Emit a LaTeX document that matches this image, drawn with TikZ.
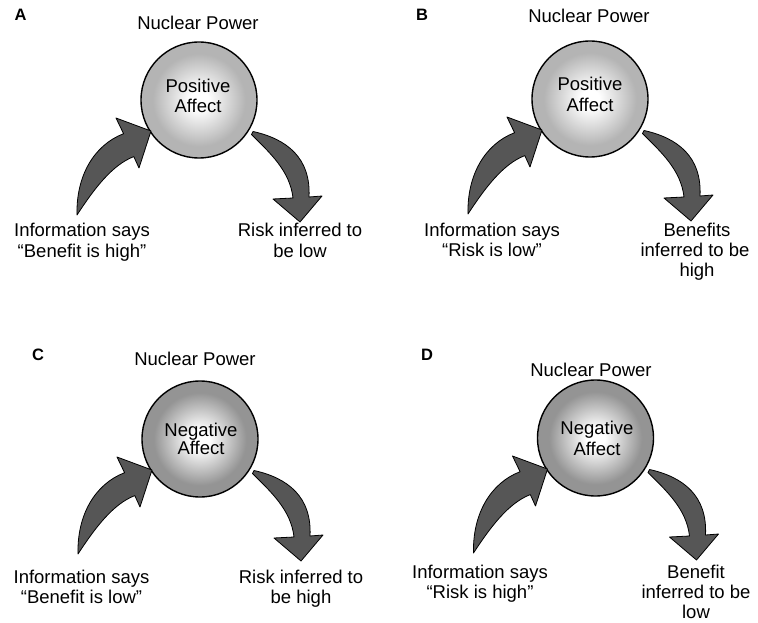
\documentclass[tikz,border=0pt]{standalone}
\usepackage{fontspec}
\setmainfont{Liberation Sans}
\definecolor{posgray}{RGB}{180,180,180}
\definecolor{neggray}{RGB}{148,148,148}
\definecolor{arrowgray}{RGB}{86,86,86}
\pgfdeclareradialshading{posglow}{\pgfpoint{0bp}{0bp}}{color(0bp)=(white); color(4bp)=(white); color(20bp)=(posgray); color(50bp)=(posgray)}
\pgfdeclareradialshading{negglow}{\pgfpoint{0bp}{0bp}}{color(0bp)=(white); color(4bp)=(white); color(20bp)=(neggray); color(50bp)=(neggray)}
\tikzset{
  txt/.style={font=\fontsize{18.5}{21}\selectfont, anchor=base, inner sep=0pt},
  lbl/.style={font=\fontsize{16.5}{19}\selectfont\bfseries, anchor=base, inner sep=0pt},
  affect/.style={circle, draw=black, line width=1.4pt, minimum size=116pt, inner sep=0pt},
  arrowshape/.style={fill=arrowgray, draw=black, line width=0.8pt, line join=round}
}
\newcommand\infoArrow{%
  \filldraw[arrowshape] (-122,115) .. controls (-123,76) and (-105,45) .. (-75.4,33.7)
    -- (-83,18) -- (-48,31) -- (-60,68) -- (-65.2,56.6)
    .. controls (-87,65) and (-105,89) .. (-122,115) -- cycle;}
\newcommand\inferArrow{%
  \filldraw[arrowshape] (54,31.5) .. controls (88,39) and (112,58) .. (110,97)
    -- (123,96) -- (101,122) -- (74,99) -- (94,98)
    .. controls (91,71) and (71,53) .. (52.5,34.5) -- cycle;}
\begin{document}
\begin{tikzpicture}[x=1pt,y=-1pt]
\useasboundingbox (0,0) rectangle (758,623);
% ---------- Panel A ----------
\node[lbl] (A-lab) at (20.5,21) {A};
\node[txt] (A-np) at (198,29.5) {Nuclear Power};
\node[affect, shading=posglow] (A-c) at (199,100) {};
\node[txt] (A-t1) at (198,93) {Positive};
\node[txt] (A-t2) at (198,113) {Affect};
\begin{scope}[shift={(A-c.center)}]
  \infoArrow
  \inferArrow
\end{scope}
\node[txt] (A-i1) at (82,236) {Information says};
\node[txt] (A-i2) at (82,257) {“Benefit is high”};
\node[txt] (A-r1) at (300,236) {Risk inferred to};
\node[txt] (A-r2) at (300,257) {be low};
% ---------- Panel B ----------
\node[lbl] (B-lab) at (422,20.5) {B};
\node[txt] (B-np) at (589,23) {Nuclear Power};
\node[affect, shading=posglow] (B-c) at (590,99) {};
\node[txt] (B-t1) at (590,91) {Positive};
\node[txt] (B-t2) at (590,112) {Affect};
\begin{scope}[shift={(B-c.center)}]
  \infoArrow
  \inferArrow
\end{scope}
\node[txt] (B-i1) at (492,236.5) {Information says};
\node[txt] (B-i2) at (492,256.5) {“Risk is low”};
\node[txt] (B-r1) at (697,236.5) {Benefits};
\node[txt] (B-r2) at (695,256.5) {inferred to be};
\node[txt] (B-r3) at (697,276.5) {high};
% ---------- Panel C ----------
\node[lbl] (C-lab) at (38,360) {C};
\node[txt] (C-np) at (195,365) {Nuclear Power};
\node[affect, shading=negglow] (C-c) at (200,439) {};
\node[txt] (C-t1) at (201,436) {Negative};
\node[txt] (C-t2) at (201,454) {Affect};
\begin{scope}[shift={(C-c.center)}]
  \infoArrow
  \inferArrow
\end{scope}
\node[txt] (C-i1) at (81.5,583.5) {Information says};
\node[txt] (C-i2) at (81.5,603.5) {“Benefit is low”};
\node[txt] (C-r1) at (301,583.5) {Risk inferred to};
\node[txt] (C-r2) at (301,603.5) {be high};
% ---------- Panel D ----------
\node[lbl] (D-lab) at (427,360.5) {D};
\node[txt] (D-np) at (591,376.5) {Nuclear Power};
\node[affect, shading=negglow] (D-c) at (595.5,438) {};
\node[txt] (D-t1) at (597,434) {Negative};
\node[txt] (D-t2) at (597,455) {Affect};
\begin{scope}[shift={(D-c.center)}]
  \infoArrow
  \inferArrow
\end{scope}
\node[txt] (D-i1) at (480,578.5) {Information says};
\node[txt] (D-i2) at (480,598.5) {“Risk is high”};
\node[txt] (D-r1) at (696,578.5) {Benefit};
\node[txt] (D-r2) at (696,598.5) {inferred to be};
\node[txt] (D-r3) at (696,618.5) {low};
\end{tikzpicture}
\end{document}
